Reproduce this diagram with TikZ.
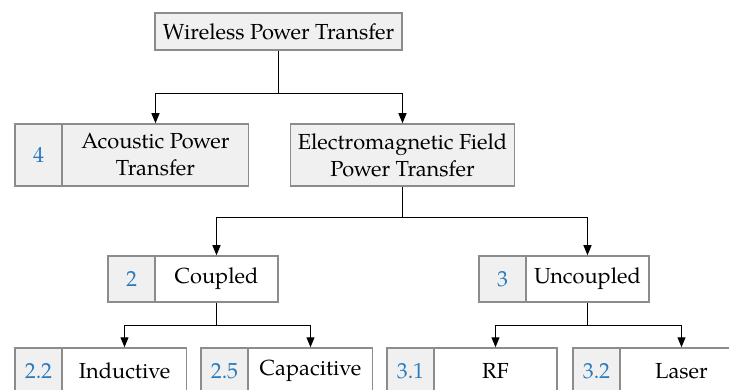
\documentclass[tikz,border=0pt]{standalone}
\usepackage{fontspec}
\setmainfont{TeX Gyre Pagella}
\usetikzlibrary{arrows.meta}
\definecolor{cellgray}{HTML}{F0F0F0}
\definecolor{edgegray}{HTML}{8C8C8C}
\definecolor{numblue}{HTML}{2B7BBF}
\newlength{\upx}\setlength{\upx}{0.5pt}
\tikzset{
  cell/.style={draw=edgegray, line width=1.5\upx, inner sep=0pt, align=center,
    font=\fontsize{10.9}{13.5}\selectfont},
  graycell/.style={cell, fill=cellgray},
  whitecell/.style={cell, fill=white},
  numcell/.style={graycell, text=numblue, minimum width=47\upx},
  arr/.style={draw=black, line width=1.1\upx, -{Triangle[length=5pt,width=4pt]}},
  con/.style={draw=black, line width=1.1\upx}
}
\begin{document}
\begin{tikzpicture}[x=0.5pt, y=-0.5pt]
\useasboundingbox (0,0) rectangle (729,390);
\clip (0,0) rectangle (729,390);
% level 0
\node[graycell, minimum width=247\upx, minimum height=37\upx] (wpt) at (278.5,31.5) {Wireless Power Transfer};
% level 1
\node[numcell, minimum height=62\upx] (acn) at (38.5,155) {4};
\node[graycell, minimum width=186\upx, minimum height=62\upx] (act) at (155.5,155) {Acoustic Power\\Transfer};
\node[graycell, minimum width=224\upx, minimum height=62\upx] (em) at (402.5,155) {Electromagnetic Field\\Power Transfer};
% level 2
\node[numcell, minimum height=46\upx] (cpn) at (131.5,279) {2};
\node[whitecell, minimum width=123\upx, minimum height=46\upx] (cpt) at (216.5,279) {Coupled};
\node[numcell, minimum height=46\upx] (ucn) at (502.5,279) {3};
\node[whitecell, minimum width=123\upx, minimum height=46\upx] (uct) at (587.5,279) {Uncoupled};
% level 3
\node[numcell, minimum height=46\upx] (inn) at (38.5,371) {2.2};
\node[whitecell, minimum width=124\upx, minimum height=46\upx] (int) at (124.5,371) {Inductive};
\node[numcell, minimum height=46\upx] (can) at (224.5,371) {2.5};
\node[whitecell, minimum width=124\upx, minimum height=46\upx] (cat) at (310.5,371) {\raisebox{2pt}{Capacitive}};
\node[numcell, minimum height=46\upx] (rfn) at (410.5,371) {3.1};
\node[whitecell, minimum width=123\upx, minimum height=46\upx] (rft) at (495.5,371) {RF};
\node[numcell, minimum height=46\upx] (lan) at (596.5,371) {3.2};
\node[whitecell, minimum width=123\upx, minimum height=46\upx] (lat) at (681.5,371) {Laser};
% junctions
\coordinate (j0) at (278.5,93.5);
\coordinate (j1) at (402.5,217.5);
\coordinate (j2) at (216.5,325.5);
\coordinate (j3) at (587.5,325.5);
% connectors
\draw[con] (wpt.south) -- (j0);
\draw[arr] (j0) -| (act.north);
\draw[arr] (j0) -| (em.north);
\draw[con] (em.south) -- (j1);
\draw[arr] (j1) -| (cpt.north);
\draw[arr] (j1) -| (uct.north);
\draw[con] (cpt.south) -- (j2);
\draw[arr] (j2) -| (int.north);
\draw[arr] (j2) -| (cat.north);
\draw[con] (uct.south) -- (j3);
\draw[arr] (j3) -| (rft.north);
\draw[arr] (j3) -| (lat.north);
\end{tikzpicture}
\end{document}
